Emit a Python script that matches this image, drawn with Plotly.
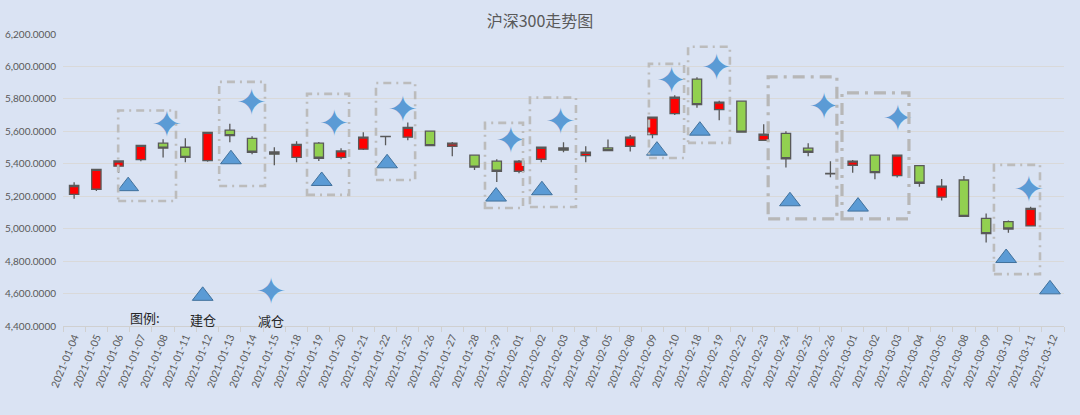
import plotly.graph_objects as go

# 沪深300 daily candles
dates = ["2021-01-04", "2021-01-05", "2021-01-06", "2021-01-07", "2021-01-08",
         "2021-01-11", "2021-01-12", "2021-01-13", "2021-01-14", "2021-01-15",
         "2021-01-18", "2021-01-19", "2021-01-20", "2021-01-21", "2021-01-22",
         "2021-01-25", "2021-01-26", "2021-01-27", "2021-01-28", "2021-01-29",
         "2021-02-01", "2021-02-02", "2021-02-03", "2021-02-04", "2021-02-05",
         "2021-02-08", "2021-02-09", "2021-02-10", "2021-02-18", "2021-02-19",
         "2021-02-22", "2021-02-23", "2021-02-24", "2021-02-25", "2021-02-26",
         "2021-03-01", "2021-03-02", "2021-03-03", "2021-03-04", "2021-03-05",
         "2021-03-08", "2021-03-09", "2021-03-10", "2021-03-11", "2021-03-12"]

open_ = [5212, 5243, 5385, 5426, 5527, 5502, 5419, 5607, 5557, 5473,
         5440, 5527, 5440, 5490, 5569, 5564, 5601, 5508, 5453, 5416,
         5354, 5428, 5498, 5450, 5498, 5508, 5580, 5709, 5922, 5734,
         5786, 5545, 5588, 5496, 5340, 5391, 5453, 5327, 5388, 5194,
         5300, 5063, 5044, 5017, None]
close = [5266, 5366, 5417, 5514, 5496, 5440, 5594, 5574, 5471, 5459,
         5520, 5434, 5479, 5564, 5567, 5625, 5512, 5527, 5379, 5354,
         5416, 5502, 5484, 5471, 5481, 5564, 5687, 5810, 5765, 5780,
         5595, 5582, 5431, 5471, 5338, 5416, 5345, 5453, 5280, 5262,
         5076, 4970, 4998, 5125, None]
high = [5286, 5368, 5420, 5517, 5551, 5557, 5596, 5646, 5570, 5502,
        5539, 5535, 5496, 5594, 5570, 5654, 5604, 5535, 5455, 5428,
        5424, 5504, 5533, 5508, 5550, 5578, 5691, 5823, 5934, 5788,
        5788, 5644, 5600, 5527, 5416, 5424, 5455, 5455, 5392, 5306,
        5325, 5094, 5050, 5135, None]
low = [5185, 5232, 5345, 5416, 5438, 5409, 5413, 5533, 5459, 5391,
       5409, 5417, 5428, 5485, 5514, 5545, 5508, 5446, 5362, 5288,
       5342, 5409, 5471, 5409, 5479, 5475, 5557, 5701, 5746, 5669,
       5594, 5541, 5377, 5446, 5317, 5345, 5305, 5315, 5258, 5173,
       5075, 4914, 4975, 5015, None]

# 建仓 (triangles) and 减仓 (stars), x in trading-day index units
buy_x = [2.43, 7.05, 11.13, 14.07, 18.97, 21.03, 26.2, 28.13, 32.18, 35.24, 41.9, 43.87]
buy_y = [5262, 5428, 5294, 5403, 5198, 5237, 5481, 5604, 5169, 5136, 4819, 4626]
sell_x = [4.17, 7.97, 11.7, 14.77, 19.63, 21.86, 26.85, 28.88, 33.71, 37.03, 42.92]
sell_y = [5623, 5756, 5631, 5713, 5522, 5639, 5894, 5975, 5730, 5662, 5221]

# dash-dot boxes around each trade: x0, x1, y0, y1
boxes = [(1.98, 4.58, 5171, 5728), (6.52, 8.58, 5263, 5905),
         (10.47, 12.36, 5208, 5831), (13.57, 15.33, 5300, 5898),
         (18.47, 20.18, 5127, 5652), (20.49, 22.56, 5134, 5808),
         (25.84, 27.42, 5436, 6016), (27.6, 29.48, 5529, 6121),
         (31.2, 34.29, 5060, 5936), (34.52, 37.53, 5060, 5837),
         (41.35, 43.42, 4720, 5393)]
wide_boxes = [8, 9]

idx = list(range(len(dates)))
blue = "#5b9bd5"
edge = "#41719c"
grey = "#595959"
star_font = dict(family="DejaVu Sans", size=37, color=blue)

fig = go.Figure()

fig.add_trace(go.Candlestick(
    x=idx, open=open_, high=high, low=low, close=close,
    increasing=dict(fillcolor="#ff0000", line=dict(color=grey, width=1.3)),
    decreasing=dict(fillcolor="#92d050", line=dict(color=grey, width=1.3)),
    showlegend=False, hoverinfo="skip"))

fig.add_trace(go.Scatter(
    x=buy_x, y=buy_y, mode="markers", cliponaxis=False, showlegend=False,
    marker=dict(symbol="triangle-up", size=18, color=blue,
                line=dict(color=edge, width=1))))
fig.add_trace(go.Scatter(
    x=sell_x, y=sell_y, mode="text", text=["✦"] * len(sell_x),
    textposition="middle center", cliponaxis=False, showlegend=False,
    textfont=star_font))

# hand-made legend inside the plot
fig.add_trace(go.Scatter(
    x=[5.78], y=[4586], mode="markers", cliponaxis=False, showlegend=False,
    marker=dict(symbol="triangle-up", size=18, color=blue,
                line=dict(color=edge, width=1))))
fig.add_trace(go.Scatter(
    x=[8.85], y=[4590], mode="text", text=["✦"], textposition="middle center",
    cliponaxis=False, showlegend=False, textfont=star_font))

lab_font = dict(family="Noto Sans CJK SC", size=13, color="#262626")
fig.add_annotation(x=3.19, y=4455, text="图例:", showarrow=False, font=lab_font)
fig.add_annotation(x=5.8, y=4443, text="建仓", showarrow=False, font=lab_font)
fig.add_annotation(x=8.85, y=4437, text="减仓", showarrow=False, font=lab_font)

for i, (x0, x1, y0, y1) in enumerate(boxes):
    if i in wide_boxes:
        ln = dict(color="#b7b7b7", width=3.2, dash="12px,6px,3px,6px")
    else:
        ln = dict(color="#bcbcbc", width=2.6, dash="8px,5px,2px,5px")
    fig.add_shape(type="rect", x0=x0, x1=x1, y0=y0, y1=y1, line=ln,
                  fillcolor="rgba(0,0,0,0)", layer="above")

fig.update_layout(
    width=1080, height=415,
    margin=dict(l=63, r=16, t=34, b=89),
    paper_bgcolor="#dae3f3", plot_bgcolor="#dae3f3",
    boxgap=0.4,
    font=dict(family="Lato, Noto Sans CJK SC", size=11, color=grey),
    title=dict(text="沪深300走势图", x=0.5, xanchor="center",
               y=1 - 21 / 415, yanchor="middle",
               font=dict(family="Noto Sans CJK SC", size=16, color=grey)),
    xaxis=dict(range=[-0.5, len(dates) - 0.5], tickmode="array", tickvals=idx,
               ticktext=dates, tickangle=-68, showgrid=False,
               rangeslider=dict(visible=False), automargin=False,
               showline=True, linecolor="#d0d0d0", linewidth=1,
               ticks="", zeroline=False,
               minor=dict(tick0=-0.5, dtick=1, ticks="outside", ticklen=5,
                          tickcolor="#d0d0d0", showgrid=False),
               tickfont=dict(size=10.5, color=grey)),
    yaxis=dict(range=[4400, 6200], dtick=200, tickformat=",.4f",
               gridcolor="#d9d9d9", gridwidth=1, zeroline=False,
               showline=False, ticks="", ticklabelstandoff=6,
               automargin=False,
               tickfont=dict(size=10, color=grey)),
)

# drop the page's default body margin so the figure sits at the top-left
fig.write_html("out.html", config={"displayModeBar": False}, post_script=(
    "document.body.style.margin='0';"
    "document.body.style.background='#dae3f3';"))
